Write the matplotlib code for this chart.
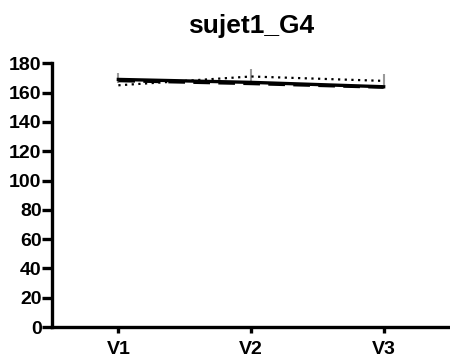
import matplotlib
matplotlib.use("Agg")
import matplotlib.pyplot as plt

plt.rcParams['font.family'] = ['Liberation Sans', 'DejaVu Sans']

visits = ["V1", "V2", "V3"]
solid_vals = [169, 167, 164]
dashed_vals = [168, 166, 163.5]
dotted_vals = [165, 171, 168]
err_center = [170, 172, 169]
err_size = [3.5, 4, 3.5]
yticks = [0, 20, 40, 60, 80, 100, 120, 140, 160, 180]

fig = plt.figure(figsize=(4.5, 3.63), dpi=100)
ax = fig.add_axes([0.1156, 0.099, 0.8844, 0.7266])
x = [1, 2, 3]

ax.errorbar(x, err_center, yerr=err_size, fmt='none', ecolor='#9a9a9a',
            elinewidth=1.5, capsize=0, zorder=1)
ax.plot(x, dashed_vals, color='black', linestyle=(0, (6, 3)), linewidth=2.0, zorder=2)
ax.plot(x, solid_vals, color='black', linestyle='-', linewidth=2.4, zorder=3)
ax.plot(x, dotted_vals, color='black', linestyle=(0, (1, 2)), linewidth=1.6, zorder=4)

ax.set_xlim(0.5, 3.5)
ax.set_ylim(0, 180)
ax.set_xticks(x)
ax.set_xticklabels(visits)
ax.set_yticks(yticks)
for s in ['top', 'right']:
    ax.spines[s].set_visible(False)
for s in ['left', 'bottom']:
    ax.spines[s].set_linewidth(2.4)
ax.tick_params(axis='y', width=2.4, length=7, labelsize=14, pad=0.5)
ax.tick_params(axis='x', width=2.4, length=4, labelsize=14, pad=6)
for lab in ax.get_xticklabels() + ax.get_yticklabels():
    lab.set_fontweight('bold')
fig.text(0.559, 0.909, "sujet1_G4", fontsize=19, fontweight='bold',
         ha='center', va='baseline')

fig.savefig("out.png", dpi=100)
